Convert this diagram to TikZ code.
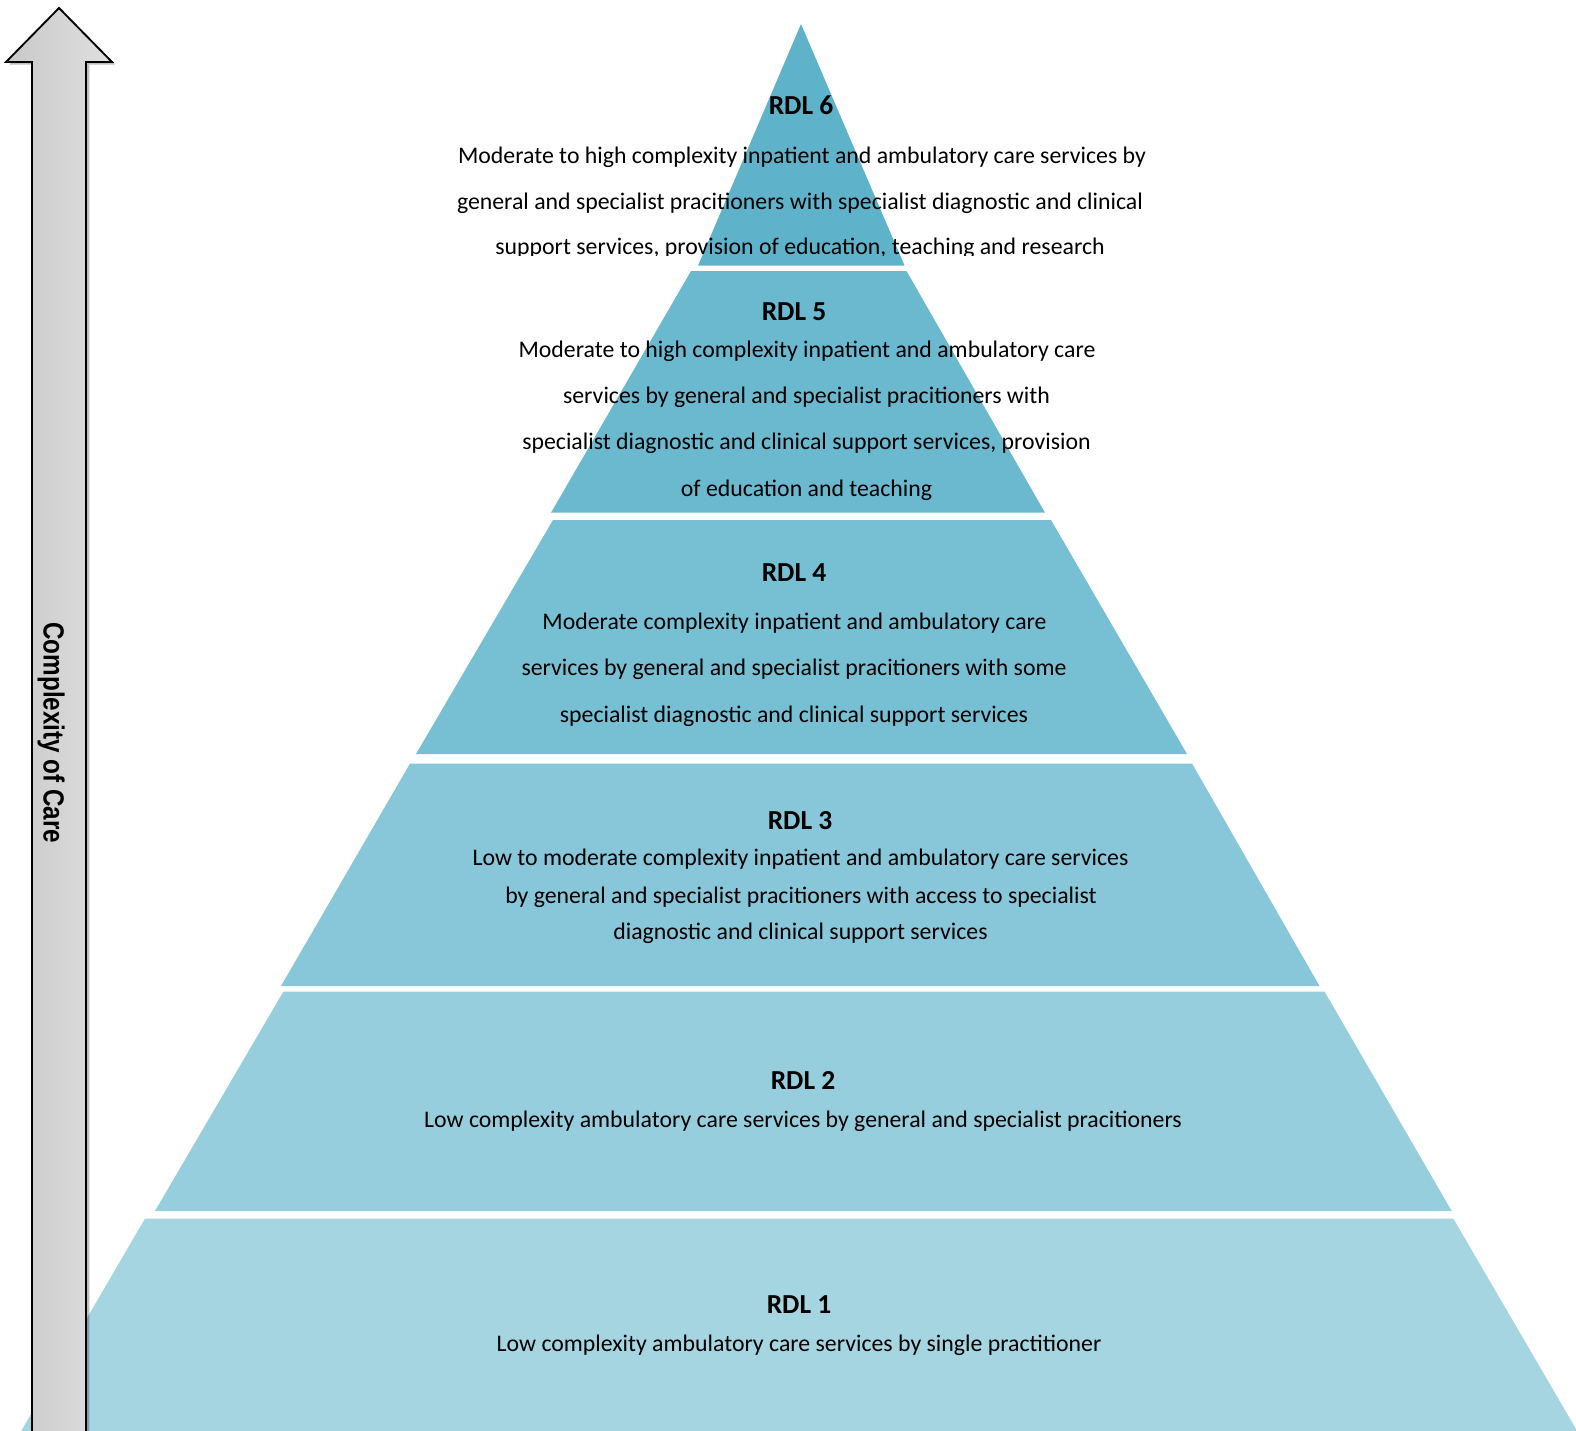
\documentclass[tikz,border=0pt]{standalone}
\usepackage{fontspec}
\setmainfont{Carlito}
\newfontfamily\arrowfont{Liberation Sans}
\usetikzlibrary{shadows}
\definecolor{lvsix}{HTML}{5EB3CB}
\definecolor{lvfive}{HTML}{6AB9CF}
\definecolor{lvfour}{HTML}{77C0D4}
\definecolor{lvthree}{HTML}{87C7D9}
\definecolor{lvtwo}{HTML}{96CEDD}
\definecolor{lvone}{HTML}{A6D5E2}
\definecolor{arrowdark}{HTML}{C8C8C8}
\definecolor{arrowlight}{HTML}{E0E0E0}
\begin{document}
\begin{tikzpicture}[x=0.75pt,y=-0.75pt,
  body/.style={font=\fontsize{17.85}{20}\selectfont, anchor=base, inner sep=0},
  title/.style={font=\fontsize{20.6}{24}\selectfont\bfseries, anchor=base, inner sep=0},
  arrowbody/.style={draw=black, line width=1.4pt, left color=arrowdark, right color=arrowlight,
    drop shadow={shadow xshift=2.5pt, shadow yshift=-2pt, opacity=0.25, fill=black}},
  axislabel/.style={rotate=-90, anchor=base west, inner sep=0,
    font=\arrowfont\bfseries\fontsize{18.2}{20}\selectfont}]
\useasboundingbox (0,0) rectangle (1576,1430);
\clip (0,0) rectangle (1576,1430);
% pyramid levels
\fill[lvsix] (801,24) -- (904.5,265.5) -- (698,265.5) -- cycle;
\fill[lvfive] (691,271) -- (906.5,271) -- (1045,512.7) -- (551,512.7) -- cycle;
\fill[lvfour] (553,520) -- (1051,520) -- (1187,754) -- (416,754) -- cycle;
\fill[lvthree] (410,763.5) -- (1192,763.5) -- (1319.5,986) -- (281,986) -- cycle;
\fill[lvtwo] (283.3,991.7) -- (1324.6,991.7) -- (1451.7,1211) -- (155,1211) -- cycle;
\fill[lvone] (145,1218.5) -- (1453.3,1218.5) -- (1582.4,1440) -- (15.9,1440) -- cycle;
% RDL 6 (text box clipped just below its last baseline)
\begin{scope}
\clip (0,0) rectangle (1576,255.5);
\node[title] (t6) at (801,114.5) {RDL 6};
\node[body] (s6a) at (802,163.5) {Moderate to high complexity inpatient and ambulatory care services by};
\node[body] (s6b) at (800,209.5) {general and specialist pracitioners with specialist diagnostic and clinical};
\node[body] (s6c) at (800,254.5) {support services, provision of education, teaching and research};
\end{scope}
% RDL 5
\node[title] (t5) at (794,320.5) {RDL 5};
\node[body] (s5a) at (807,357) {Moderate to high complexity inpatient and ambulatory care};
\node[body] (s5b) at (806.5,403.5) {services by general and specialist pracitioners with};
\node[body] (s5c) at (806.5,449.5) {specialist diagnostic and clinical support services, provision};
\node[body] (s5d) at (806.5,496) {of education and teaching};
% RDL 4
\node[title] (t4) at (794,581) {RDL 4};
\node[body] (s4a) at (794.5,629.5) {Moderate complexity inpatient and ambulatory care};
\node[body] (s4b) at (794,675.5) {services by general and specialist pracitioners with some};
\node[body] (s4c) at (794,722) {specialist diagnostic and clinical support services};
% RDL 3
\node[title] (t3) at (800,829) {RDL 3};
\node[body] (s3a) at (800.5,865.5) {Low to moderate complexity inpatient and ambulatory care services};
\node[body] (s3b) at (801,903) {by general and specialist pracitioners with access to specialist};
\node[body] (s3c) at (800.5,939) {diagnostic and clinical support services};
% RDL 2
\node[title] (t2) at (803,1089) {RDL 2};
\node[body] (s2a) at (803,1127) {Low complexity ambulatory care services by general and specialist pracitioners};
% RDL 1
\node[title] (t1) at (799,1313.5) {RDL 1};
\node[body] (s1a) at (799,1351) {Low complexity ambulatory care services by single practitioner};
% complexity arrow
\path[arrowbody] (59,8) -- (112,62) -- (86,62) -- (86,1445) -- (32,1445) -- (32,62) -- (6,62) -- cycle;
\node[axislabel] (axis) at (43.5,622) {\scalebox{1}[1.2]{Complexity of Care}};
\end{tikzpicture}
\end{document}
